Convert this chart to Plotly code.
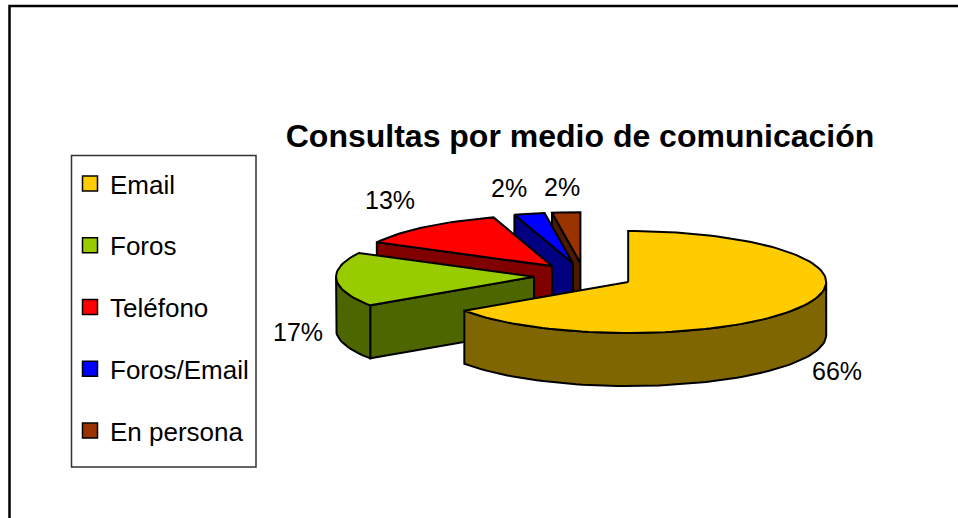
import math
import plotly.graph_objects as go

# ---- data -------------------------------------------------------------
categories = ["Email", "Foros", "Teléfono", "Foros/Email", "En persona"]
values = [65.51, 17.2, 12.51, 2.49, 2.29]
top_colors = ["#FFCC00", "#99CC00", "#FF0000", "#0000FF", "#993300"]
side_colors = ["#806600", "#4D6600", "#800000", "#000080", "#4D1A00"]

# ---- pie geometry (in page pixels) ------------------------------------
W, H = 958, 518
CX, CY = 584, 276      # centre of the pie before explosion
RX, RY = 198, 51       # ellipse radii of the tilted top face
DEPTH = 53             # height of the extruded rim
EXPLODE = 0.2525       # explosion as a fraction of the radius
STEP = 2.0             # degrees between rim points

LABEL_CENTRES = [(837, 371), (298, 332), (390, 200), (509, 188), (562, 187)]
EDGE = dict(color="black", width=2)


def rim_point(ax, ay, deg, drop=0.0):
    r = math.radians(deg)
    return ax + RX * math.sin(r), ay - RY * math.cos(r) + drop


def arc(ax, ay, a0, a1, drop=0.0):
    n = max(1, int(abs(a1 - a0) / STEP))
    return [rim_point(ax, ay, a0 + (a1 - a0) * i / n, drop) for i in range(n + 1)]


def polygon(points, color):
    xs = [p[0] for p in points] + [points[0][0]]
    ys = [p[1] for p in points] + [points[0][1]]
    return go.Scatter(x=xs, y=ys, mode="lines", fill="toself", fillcolor=color,
                      line=EDGE, showlegend=False, hoverinfo="skip")


total = sum(values)
slices = []
start = 0.0
for value, top, side in zip(values, top_colors, side_colors):
    end = start + 360.0 * value / total
    mid = math.radians((start + end) / 2)
    ax = CX + EXPLODE * RX * math.sin(mid)
    ay = CY - EXPLODE * RY * math.cos(mid)
    slices.append((ax, ay, start, end, top, side))
    start = end

fig = go.Figure()

# back-most slice first, the front slice (Email) last
for ax, ay, a0, a1, top, side in reversed(slices):
    if 180 < a0 < 360:     # start cut faces the viewer
        p = rim_point(ax, ay, a0)
        q = rim_point(ax, ay, a0, DEPTH)
        fig.add_trace(polygon([(ax, ay), p, q, (ax, ay + DEPTH)], side))
    if 0 < a1 < 180:       # end cut faces the viewer
        p = rim_point(ax, ay, a1)
        q = rim_point(ax, ay, a1, DEPTH)
        fig.add_trace(polygon([(ax, ay), p, q, (ax, ay + DEPTH)], side))
    lo, hi = max(a0, 90), min(a1, 270)
    if lo < hi:            # outer rim
        fig.add_trace(polygon(arc(ax, ay, lo, hi) + arc(ax, ay, hi, lo, DEPTH), side))
    fig.add_trace(polygon([(ax, ay)] + arc(ax, ay, a0, a1), top))

# legend entries
for name, color in zip(categories, top_colors):
    fig.add_trace(go.Scatter(x=[None], y=[None], mode="markers", name=name, legendgroup=name,
                             marker=dict(symbol="square", size=15, color=color,
                                         line=dict(color="black", width=1.5))))

annotations = [
    dict(x=x, y=y, xref="x", yref="y", text=f"{v:.0f}%", showarrow=False,
         font=dict(size=25, color="black"))
    for v, (x, y) in zip(values, LABEL_CENTRES)
]

fig.update_layout(
    width=W, height=H, margin=dict(l=0, r=0, t=0, b=0),
    paper_bgcolor="white", plot_bgcolor="white",
    font=dict(family="Liberation Sans", color="black"),
    title=dict(text="<b>Consultas por medio de comunicación</b>",
               font=dict(size=32, family="Liberation Sans", color="black"),
               x=580 / W, xanchor="center", y=1 - 136 / H, yanchor="middle"),
    xaxis=dict(range=[0, W], visible=False, fixedrange=True),
    yaxis=dict(range=[H, 0], visible=False, fixedrange=True),
    legend=dict(x=70 / W, y=1 - 160 / H, xanchor="left", yanchor="top",
                bgcolor="rgba(0,0,0,0)", borderwidth=0,
                font=dict(size=26, color="black"), tracegroupgap=25,
                entrywidth=140, entrywidthmode="pixels", itemsizing="trace"),
    annotations=annotations,
    shapes=[
        dict(type="path", xref="x", yref="y",
             path=f"M 9.5 {H} L 9.5 6 L {W} 6",
             line=dict(color="black", width=2.5)),
        dict(type="rect", xref="x", yref="y", x0=71.5, x1=256, y0=155.5, y1=467,
             line=dict(color="#333333", width=1.5), fillcolor="rgba(0,0,0,0)"),
    ],
)

fig.write_html("out.html", post_script="document.body.style.margin='0';",
               config={"displayModeBar": False})
